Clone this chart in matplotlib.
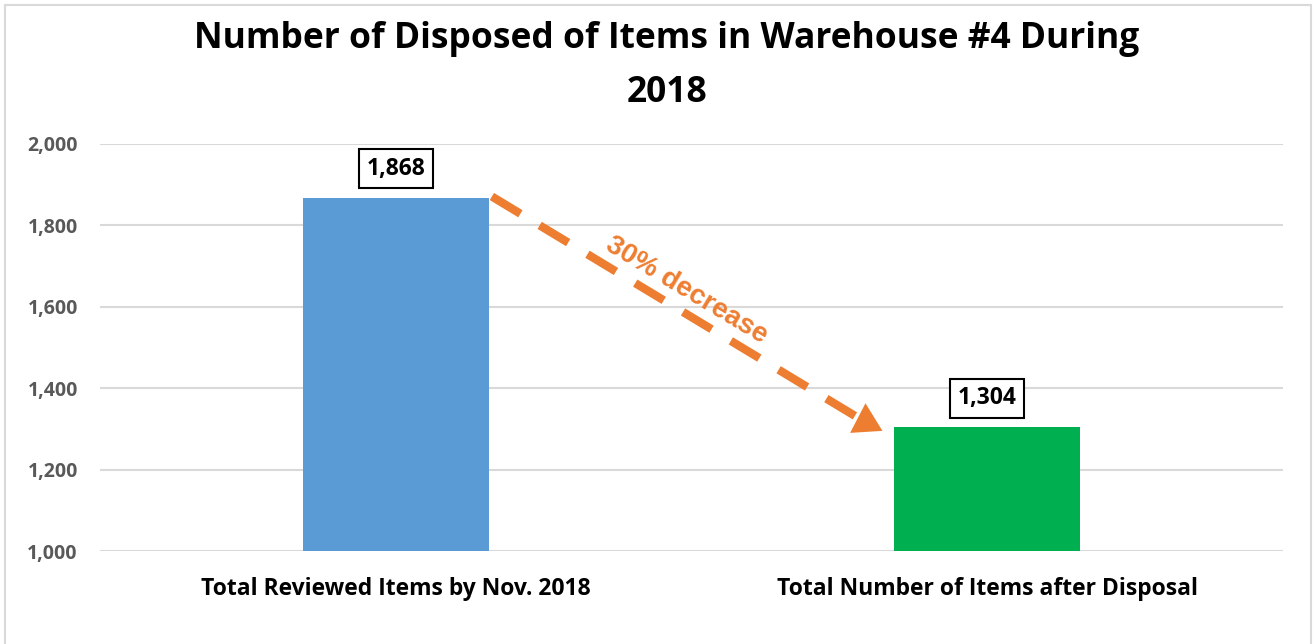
import matplotlib
matplotlib.use("Agg")
import matplotlib.pyplot as plt
from matplotlib.patches import Rectangle, FancyArrowPatch
from matplotlib.ticker import FuncFormatter

categories = ["Total Reviewed Items by Nov. 2018", "Total Number of Items after Disposal"]
values = [1868, 1304]
bar_colors = ["#5B9BD5", "#00B050"]
title = "Number of Disposed of Items in Warehouse #4 During\n2018"
arrow_label = "30% decrease"

plt.rcParams['font.family'] = ['Open Sans', 'DejaVu Sans']

fig = plt.figure(figsize=(13.14, 6.44), dpi=100)
ax = fig.add_axes([100/1314, 1-551/644, (1283-100)/1314, (551-144)/644])

x = list(range(len(categories)))
w = 0.315
ax.bar(x, values, width=w, color=bar_colors, zorder=2)
ax.set_xlim(-0.5, 1.5)
ax.set_ylim(1000, 2000)
ax.set_yticks([1000, 1200, 1400, 1600, 1800, 2000])
ax.yaxis.set_major_formatter(FuncFormatter(lambda v, p: f"{int(v):,}"))
ax.grid(axis='y', color='#D9D9D9', linewidth=1.5, zorder=0)
for s in ax.spines.values():
    s.set_visible(False)
ax.tick_params(axis='both', length=0)
ax.tick_params(axis='y', pad=16, labelsize=14, labelcolor='#595959')
for t in ax.get_yticklabels():
    t.set_fontweight('bold')
ax.set_xticks(x)
ax.set_xticklabels(categories, fontsize=16.5, fontweight='bold', color='black')
ax.tick_params(axis='x', pad=19)

for xi, v in zip(x, values):
    ax.annotate(f"{v:,}", (xi, v), xytext=(0, 21), textcoords='offset points',
                ha='center', va='center', fontsize=16.5, fontweight='bold',
                bbox=dict(boxstyle='square,pad=0.33', fc='white', ec='black', lw=1.5))

# dashed arrow: shaft + solid head
x0, y0 = x[0] + w/2, values[0]
xb, yb = 0.79, 1320   # head base
x1, y1 = 0.827, 1292  # tip
ax.plot([x0 + 0.005, xb], [y0 + 3, yb], color='#ED7D31', lw=6,
        linestyle=(0.0, (4.0, 2.7)), solid_capstyle='butt', dash_capstyle='butt', zorder=3)
head = FancyArrowPatch((xb - 0.02, yb + 15), (x1, y1), arrowstyle='-|>,head_length=1.0,head_width=0.6',
                       mutation_scale=20, color='#ED7D31', lw=0, zorder=3)
ax.add_patch(head)
ax.text(0.492, 1641, arrow_label, color='#ED7D31', fontsize=20, fontweight='bold',
        rotation=-31, ha='center', va='center', family=['Liberation Sans', 'DejaVu Sans'],
        rotation_mode='anchor')

fig.text(667/1314, 1-66/644, title, ha='center', va='center', fontsize=25.5,
         fontweight='bold', linespacing=1.7)

fig.patches.append(Rectangle((5/1314, -0.05), (1311-5)/1314, 1.05 - 5/644,
                             transform=fig.transFigure, fill=False, ec='#D9D9D9', lw=1.5))

fig.savefig("out.png", dpi=100)
